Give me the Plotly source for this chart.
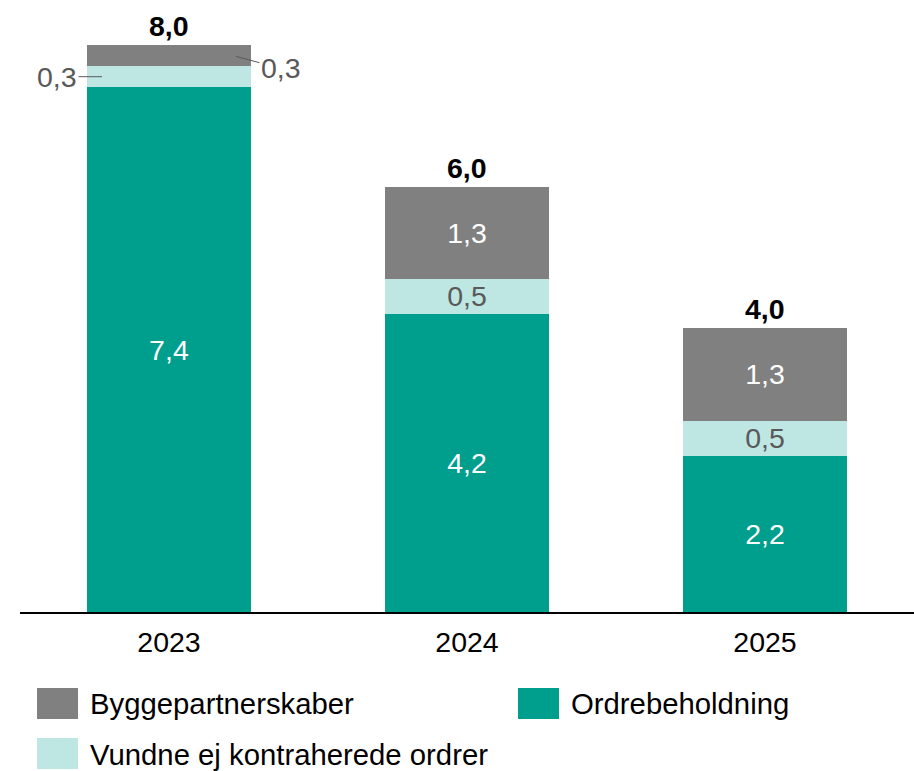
import plotly.graph_objects as go

years = ["2023", "2024", "2025"]
ordrebeholdning = [7.4, 4.2, 2.2]
vundne = [0.3, 0.5, 0.5]
bygge = [0.3, 1.3, 1.3]
totals = [8.0, 6.0, 4.0]

names = ["Ordrebeholdning", "Vundne ej kontraherede ordrer", "Byggepartnerskaber"]
colors = ["#009E8C", "#BEE6E2", "#808080"]
text_colors = ["white", "#595959", "white"]
FONT = "Liberation Sans, Arial, sans-serif"
FS = 28.5
FS_LEG = 29.3

W, H = 914, 771
ML, MR, MT, MB = 20, 0, 2, 159
PW, PH = W - ML - MR, H - MT - MB


def fmt(v):
    return f"{v:.1f}".replace(".", ",")


series = [ordrebeholdning, vundne, bygge]
fig = go.Figure()
for i, (vals, name, col, tcol) in enumerate(zip(series, names, colors, text_colors)):
    # small 2023 segments get outside leader-line labels instead
    txt = [("" if (j == 0 and i > 0) else fmt(v)) for j, v in enumerate(vals)]
    fig.add_trace(go.Bar(
        x=years, y=vals, name=name, marker=dict(color=col, line=dict(width=0)),
        text=txt, textposition="inside", insidetextanchor="middle", textangle=0,
        constraintext="none",
        textfont=dict(family=FONT, size=FS, color=tcol),
        showlegend=False, hoverinfo="skip",
    ))

# totals
for i, t in enumerate(totals):
    fig.add_annotation(x=i, y=t, text="<b>" + fmt(t) + "</b>", showarrow=False,
                       yanchor="bottom", yshift=1,
                       font=dict(family=FONT, size=FS, color="black"))

# 2023 small segment labels with leader lines
y_v = ordrebeholdning[0] + vundne[0] / 2
y_b = ordrebeholdning[0] + vundne[0] + bygge[0] / 2
fig.add_annotation(x=0, y=y_v, xshift=-67, text=fmt(vundne[0]), showarrow=True,
                   arrowhead=0, arrowwidth=1, arrowcolor="#595959", ax=-45, ay=0,
                   standoff=0, font=dict(family=FONT, size=FS, color="#595959"))
fig.add_annotation(x=0, y=y_b, xshift=67, yshift=-1, text=fmt(bygge[0]), showarrow=True,
                   arrowhead=0, arrowwidth=1, arrowcolor="#595959", ax=45, ay=12,
                   standoff=0, font=dict(family=FONT, size=FS, color="#595959"))


# manual legend
def px_x(px):
    return (px - ML) / PW


def px_y(py):
    return (H - MB - py) / PH


legend_items = [
    ("Byggepartnerskaber", colors[2], 37, 688),
    ("Ordrebeholdning", colors[0], 518, 688),
    ("Vundne ej kontraherede ordrer", colors[1], 37, 738),
]
for name, col, lx, ly in legend_items:
    fig.add_shape(type="rect", xref="paper", yref="paper",
                  x0=px_x(lx), x1=px_x(lx + 41), y0=px_y(ly), y1=px_y(ly + 31),
                  fillcolor=col, line=dict(width=0))
    fig.add_annotation(xref="paper", yref="paper", x=px_x(lx + 51), y=px_y(ly + 16),
                       xanchor="left", yanchor="middle", text=name, showarrow=False,
                       font=dict(family=FONT, size=FS_LEG, color="black"))

fig.update_layout(
    width=W, height=H, barmode="stack", bargap=0.45,
    separators=", ",
    margin=dict(l=ML, r=MR, t=MT, b=MB),
    plot_bgcolor="white", paper_bgcolor="white",
    showlegend=False,
    font=dict(family=FONT, size=FS, color="black"),
    xaxis=dict(type="category", range=[-0.5, len(years) - 0.5], autorange=False,
               showline=True, linecolor="black", linewidth=1.5,
               ticks="", ticklabelstandoff=4,
               tickfont=dict(family=FONT, size=FS, color="black"),
               showgrid=False, fixedrange=True),
    yaxis=dict(visible=False, range=[0, PH / 70.9], autorange=False,
               showgrid=False, zeroline=False, fixedrange=True),
    uniformtext=dict(mode=False),
)

fig.write_html("out.html", config={"displayModeBar": False},
               post_script="document.body.style.margin='0';")
